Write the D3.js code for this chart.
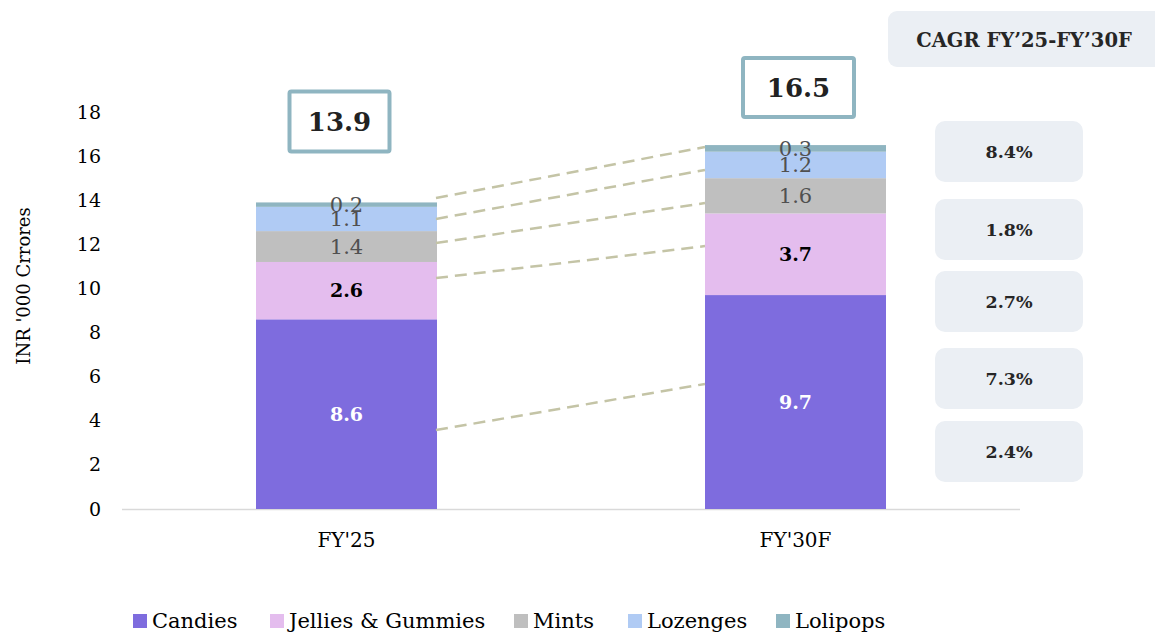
<!DOCTYPE html>
<html>
<head>
<meta charset="utf-8">
<script src="https://cdn.jsdelivr.net/npm/d3@7"></script>
<style>
  html, body { margin: 0; padding: 0; background: #ffffff; }
  svg { display: block; font-family: "DejaVu Serif", "Liberation Serif", serif; }
</style>
</head>
<body>
<svg id="chart" width="1155" height="633"></svg>
<script>
// Market size by confectionery segment (INR '000 crores)
const years = ["FY'25", "FY'30F"];
const segments = ["Candies", "Jellies & Gummies", "Mints", "Lozenges", "Lolipops"];
const candies = [8.6, 9.7];
const jellies = [2.6, 3.7];
const mints = [1.4, 1.6];
const lozenges = [1.1, 1.2];
const lolipops = [0.2, 0.3];
const totals = [13.9, 16.5];
const cagrLabels = ["8.4%", "1.8%", "2.7%", "7.3%", "2.4%"];
const cagrTitle = "CAGR FY’25-FY’30F";
const yTicks = [0, 2, 4, 6, 8, 10, 12, 14, 16, 18];
const yTitle = "INR '000 Crrores";
// connector lines between the two bars, in value units [left, right]
const connectors = [[14.1, 16.41], [13.15, 15.37], [12.06, 13.87], [10.47, 11.92], [3.58, 5.67]];

const colors = ["#7e6cde", "#e4bdee", "#bfbfbf", "#b0cbf4", "#8fb5c1"];
const seriesValues = [candies, jellies, mints, lozenges, lolipops];
const FONT = "DejaVu Serif, Liberation Serif, serif";

const svg = d3.select("#chart");

const x = d3.scaleBand().domain(years).range([122, 1020]).padding(0);
const y = d3.scaleLinear().domain([0, 18]).range([509, 112]);
const barW = 181;

// y axis tick labels
const yAxis = svg.append("g")
  .attr("transform", "translate(101,0)")
  .call(d3.axisLeft(y).tickValues(yTicks).tickSize(0).tickPadding(0));
yAxis.select(".domain").remove();
yAxis.selectAll("text")
  .attr("font-family", FONT)
  .attr("font-size", 19)
  .attr("fill", "#000");

svg.append("text")
  .attr("transform", `translate(24,286) rotate(-90)`)
  .attr("text-anchor", "middle")
  .attr("dy", "0.35em")
  .attr("font-size", 18)
  .attr("fill", "#000")
  .text(yTitle);

// baseline
svg.append("line")
  .attr("x1", 122).attr("x2", 1020)
  .attr("y1", y(0) + 0.5).attr("y2", y(0) + 0.5)
  .attr("stroke", "#d9d9d9").attr("stroke-width", 1.5);

// x labels
const xAxis = svg.append("g")
  .attr("transform", `translate(0,${y(0)})`)
  .call(d3.axisBottom(x).tickSize(0).tickPadding(24));
xAxis.select(".domain").remove();
xAxis.selectAll("text")
  .attr("font-family", FONT)
  .attr("font-size", 20)
  .attr("fill", "#000");

// stacked data
const rows = years.map((yr, i) => {
  const r = { year: yr };
  segments.forEach((s, k) => r[s] = seriesValues[k][i]);
  return r;
});
const stack = d3.stack().keys(segments)(rows);

const groups = svg.append("g").selectAll("g")
  .data(stack).join("g")
  .attr("fill", (d, k) => colors[k]);

groups.selectAll("rect")
  .data(d => d.map(v => ({ v, key: d.key })))
  .join("rect")
  .attr("x", d => x(d.v.data.year) + x.bandwidth() / 2 - barW / 2)
  .attr("width", barW)
  .attr("y", d => y(d.v[1]))
  .attr("height", d => y(d.v[0]) - y(d.v[1]));

// connector lines
svg.append("g").selectAll("line")
  .data(connectors).join("line")
  .attr("x1", x(years[0]) + x.bandwidth() / 2 + barW / 2 - 1)
  .attr("x2", x(years[1]) + x.bandwidth() / 2 - barW / 2)
  .attr("y1", d => y(d[0]))
  .attr("y2", d => y(d[1]))
  .attr("stroke", "#c4c4a6")
  .attr("stroke-width", 2.5)
  .attr("stroke-dasharray", "12,7");

// segment value labels
const labelStyle = [
  { fill: "#ffffff", weight: "bold", size: 19 },
  { fill: "#000000", weight: "bold", size: 19 },
  { fill: "#505050", weight: "normal", size: 21 },
  { fill: "#505050", weight: "normal", size: 21 },
  { fill: "#505050", weight: "normal", size: 21 }
];
stack.forEach((layer, k) => {
  svg.append("g").selectAll("text")
    .data(layer).join("text")
    .attr("x", d => x(d.data.year) + x.bandwidth() / 2)
    .attr("y", d => (y(d[0]) + y(d[1])) / 2)
    .attr("dy", "0.35em")
    .attr("text-anchor", "middle")
    .attr("font-size", labelStyle[k].size)
    .attr("font-weight", labelStyle[k].weight)
    .attr("fill", labelStyle[k].fill)
    .text(d => (d[1] - d[0]).toFixed(1));
});

// total boxes
const totalBoxes = [
  { w: 100, h: 60, gap: 51, dx: -7 },
  { w: 111, h: 59, gap: 28, dx: 3 }
];
years.forEach((yr, i) => {
  const b = totalBoxes[i];
  const cx = x(yr) + x.bandwidth() / 2 + b.dx;
  const top = y(totals[i]) - b.gap - b.h;
  svg.append("rect")
    .attr("x", cx - b.w / 2).attr("y", top)
    .attr("width", b.w).attr("height", b.h)
    .attr("rx", 2)
    .attr("fill", "#fff")
    .attr("stroke", "#8fb5c1").attr("stroke-width", 4);
  svg.append("text")
    .attr("x", cx).attr("y", top + b.h / 2)
    .attr("dy", "0.35em")
    .attr("text-anchor", "middle")
    .attr("font-size", 26).attr("font-weight", "bold")
    .attr("fill", "#222")
    .text(totals[i].toFixed(1));
});

// CAGR title box
svg.append("rect")
  .attr("x", 888).attr("y", 11).attr("width", 290).attr("height", 56)
  .attr("rx", 9).attr("fill", "#ebeff4");
svg.append("text")
  .attr("x", 1024).attr("y", 40).attr("dy", "0.35em")
  .attr("text-anchor", "middle")
  .attr("font-size", 19.5).attr("font-weight", "bold").attr("fill", "#262626")
  .text(cagrTitle);

// CAGR boxes
const cagrTops = [121, 199, 271, 348, 421];
svg.append("g").selectAll("g")
  .data(cagrLabels).join("g")
  .each(function (d, i) {
    const g = d3.select(this);
    g.append("rect")
      .attr("x", 935).attr("y", cagrTops[i])
      .attr("width", 148).attr("height", 61)
      .attr("rx", 10).attr("fill", "#ebeff4");
    g.append("text")
      .attr("x", 1009).attr("y", cagrTops[i] + 31).attr("dy", "0.35em")
      .attr("text-anchor", "middle")
      .attr("font-size", 17.5).attr("font-weight", "bold").attr("fill", "#262626")
      .text(d);
  });

// legend
const legendX = [133, 270, 514, 628, 776];
const legend = svg.append("g").selectAll("g")
  .data(segments).join("g")
  .attr("transform", (d, i) => `translate(${legendX[i]},621)`);
legend.append("rect")
  .attr("x", 0).attr("y", -7).attr("width", 14).attr("height", 14)
  .attr("fill", (d, i) => colors[i]);
legend.append("text")
  .attr("x", 19).attr("y", 0).attr("dy", "0.35em")
  .attr("font-size", 21).attr("fill", "#000")
  .text(d => d);
</script>
</body>
</html>
